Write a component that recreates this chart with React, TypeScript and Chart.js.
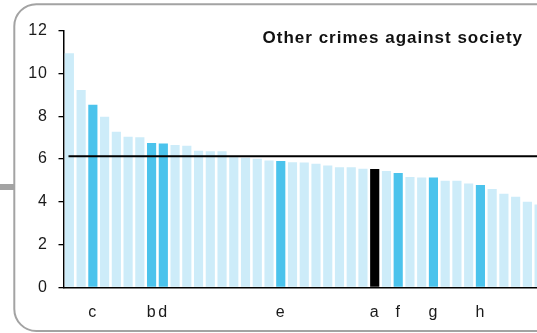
import React, { useEffect, useRef } from "react";
import { Chart, registerables } from "chart.js";

Chart.register(...registerables);

const TITLE = "Other crimes against society";

const categories: string[] = [
  "", "", "c", "", "", "", "", "b", "d", "",
  "", "", "", "", "", "", "", "", "e", "",
  "", "", "", "", "", "", "a", "", "f", "",
  "", "g", "", "", "", "h", "", "", "", "",
  "",
];

const values: number[] = [
  10.95, 9.23, 8.54, 7.97, 7.28, 7.04, 7.02, 6.75, 6.72, 6.66,
  6.62, 6.38, 6.36, 6.36, 6.08, 6.06, 6.01, 5.93, 5.91, 5.85,
  5.84, 5.78, 5.7, 5.62, 5.61, 5.54, 5.53, 5.44, 5.35, 5.16,
  5.14, 5.14, 4.98, 4.98, 4.85, 4.78, 4.6, 4.38, 4.23, 4.0,
  3.87,
];

const average = 6.13;

const yTicks: number[] = [0, 2, 4, 6, 8, 10, 12];

const LIGHT = "#cdecf9";
const DARK = "#4bc3ec";
const BLACK = "#000000";

const FONT = "'Liberation Sans', Arial, Helvetica, sans-serif";

export default function App() {
  const ref = useRef<HTMLCanvasElement | null>(null);

  useEffect(() => {
    if (!ref.current) return;
    const colors = categories.map((c) => (c === "a" ? BLACK : c ? DARK : LIGHT));

    const spacingPlugin = {
      id: "spacing",
      beforeUpdate(chart: any) {
        chart.ctx.letterSpacing = "1px";
      },
      beforeDraw(chart: any) {
        chart.ctx.letterSpacing = "1px";
      },
    };

    const avgPlugin = {
      id: "avgLine",
      afterDatasetsDraw(chart: any) {
        const { ctx, chartArea, scales } = chart;
        const y = scales.y.getPixelForValue(average);
        ctx.save();
        ctx.strokeStyle = "#000";
        ctx.lineWidth = 2;
        ctx.beginPath();
        ctx.moveTo(chartArea.left + 5, y);
        ctx.lineTo(chartArea.right, y);
        ctx.stroke();
        ctx.restore();
      },
    };

    const titlePlugin = {
      id: "cornerTitle",
      afterDraw(chart: any) {
        const ctx = chart.ctx;
        ctx.save();
        ctx.font = `bold 17px ${FONT}`;
        ctx.letterSpacing = "1px";
        ctx.fillStyle = "#111";
        ctx.textAlign = "right";
        ctx.textBaseline = "alphabetic";
        ctx.fillText(TITLE, 523, 42.5);
        ctx.restore();
      },
    };

    const chart = new Chart(ref.current, {
      type: "bar",
      data: {
        labels: categories,
        datasets: [
          {
            data: values,
            backgroundColor: colors,
            borderWidth: 0,
            barPercentage: 0.78,
            categoryPercentage: 1,
          },
        ],
      },
      options: {
        animation: false,
        responsive: false,
        devicePixelRatio: 1,
        layout: { padding: { top: 30.7, left: 0, right: 0, bottom: 5.7 } },
        plugins: {
          legend: { display: false },
          title: { display: false },
          tooltip: { enabled: false },
        },
        scales: {
          x: {
            grid: { display: false, drawTicks: false, tickLength: 0 },
            border: { display: true, color: "#000", width: 1.5 },
            ticks: {
              autoSkip: false,
              maxRotation: 0,
              minRotation: 0,
              padding: 16,
              color: "#1a1a1a",
              font: { family: FONT, size: 16 },
            },
            afterFit(scale: any) {
              scale.height = 40;
              scale.paddingLeft = 0;
              scale.paddingRight = 0;
            },
          },
          y: {
            min: 0,
            max: 12,
            afterBuildTicks(scale: any) {
              scale.ticks = yTicks.map((v) => ({ value: v }));
            },
            grid: {
              display: true,
              drawOnChartArea: false,
              drawTicks: true,
              tickLength: 5,
              color: "#000",
              lineWidth: 1.3,
            },
            border: { display: true, color: "#000", width: 1.5 },
            ticks: {
              padding: 10.5,
              color: "#1a1a1a",
              font: { family: FONT, size: 16 },
              callback: (v: any) => String(v),
            },
            afterFit(scale: any) {
              scale.width = 63.5;
            },
          },
        },
      },
      plugins: [spacingPlugin, avgPlugin, titlePlugin],
    });

    return () => chart.destroy();
  }, []);

  return (
    <div
      style={{
        position: "absolute",
        left: 0,
        top: 0,
        width: 537,
        height: 333,
        overflow: "hidden",
        background: "#fff",
      }}
    >
      <svg
        width={537}
        height={333}
        style={{ position: "absolute", left: 0, top: 0 }}
      >
        <path
          d="M 540 4.2 H 36.5 A 22 22 0 0 0 14.3 26.4 V 309 A 22 22 0 0 0 36.5 331 H 540"
          fill="none"
          stroke="#a3a3a3"
          strokeWidth={2}
        />
        <rect x={0} y={184} width={14} height={6} fill="#a3a3a3" />
      </svg>
      <canvas
        ref={ref}
        width={545}
        height={333}
        style={{ position: "absolute", left: 0, top: 0, width: 545, height: 333 }}
      />
    </div>
  );
}
